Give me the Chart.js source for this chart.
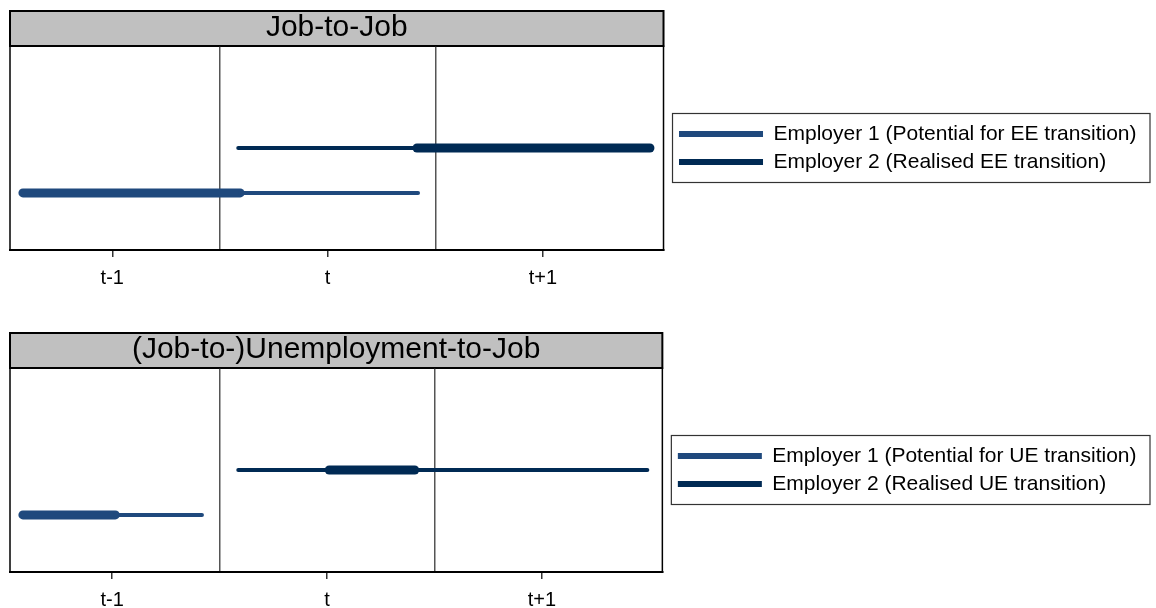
<!DOCTYPE html>
<html>
<head>
<meta charset="utf-8">
<script src="https://cdn.jsdelivr.net/npm/chart.js@4.4.0/dist/chart.umd.min.js"></script>
<style>
  body { margin: 0; background: #fff; overflow: hidden; width: 1156px; height: 608px; }
  .painel { position: absolute; left: 0; width: 1156px; height: 300px; }
</style>
</head>
<body>
<div class="painel" style="top:0px"><canvas id="graficoEE" width="1156" height="300"></canvas></div>
<div class="painel" style="top:322px"><canvas id="graficoUE" width="1156" height="300"></canvas></div>
<script>
// dados
const periodos = ['t-1', 't', 't+1'];
const posPeriodos = [1, 2, 3];
const divisoes = [1.5, 2.5];

const titulos = ['Job-to-Job', '(Job-to-)Unemployment-to-Job'];
const legendaEE = ['Employer 1 (Potential for EE transition)', 'Employer 2 (Realised EE transition)'];
const legendaUE = ['Employer 1 (Potential for UE transition)', 'Employer 2 (Realised UE transition)'];

// nivel (eixo y) de cada empregador
const nivelEmp = [0.28, 0.5];

// Job-to-Job: pontos no tempo e se o trecho e o vinculo principal (1) ou nao (0)
const eeEmp1X = [0.585, 1.594, 2.42];
const eeEmp1Principal = [1, 0];
const eeEmp2X = [1.585, 2.415, 3.497];
const eeEmp2Principal = [0, 1];

// (Job-to-)Unemployment-to-Job
const ueEmp1X = [0.585, 1.015, 1.418];
const ueEmp1Principal = [1, 0];
const ueEmp2X = [1.587, 2.01, 2.408, 3.49];
const ueEmp2Principal = [0, 1, 0];

const cores = ['#1f497d', '#002a54'];
const fonte = "'Liberation Sans', Arial, sans-serif";

function serie(label, xs, principal, nivel, cor) {
  return {
    label: label,
    data: xs.map(x => ({ x: x, y: nivel })),
    borderColor: cor,
    backgroundColor: cor,
    borderWidth: 4,
    borderCapStyle: 'round',
    pointRadius: 0,
    fill: false,
    segment: {
      borderWidth: ctx => principal[ctx.p0DataIndex] ? 9 : 4
    }
  };
}

// caixa cinza do titulo + moldura do grafico + moldura da legenda
const moldura = {
  id: 'moldura',
  afterLayout(chart) {
    // afasta a legenda um pouco do grafico
    chart.legend.left += 8.5;
    chart.legend.right += 8.5;
  },
  beforeDraw(chart) {
    const a = chart.chartArea;
    const c = chart.ctx;
    c.save();
    c.fillStyle = '#c0c0c0';
    c.fillRect(a.left, a.top - 35, a.right - a.left, 35);
    c.strokeStyle = '#000';
    c.lineWidth = 2;
    c.strokeRect(a.left, a.top - 35, a.right - a.left, 35);
    c.restore();
  },
  afterDraw(chart) {
    const a = chart.chartArea;
    const c = chart.ctx;
    c.save();
    c.strokeStyle = '#000';
    c.lineWidth = 1.5;
    c.strokeRect(a.left, a.top, a.right - a.left, a.bottom - a.top);
    // legenda
    const meio = (a.top + a.bottom) / 2;
    c.strokeStyle = '#333';
    c.lineWidth = 1.2;
    c.strokeRect(a.right + 9, meio - 34.5, chart.width - 6 - (a.right + 9), 69);
    c.restore();
  }
};

function montarConfig(titulo, nomes, e1x, e1p, e2x, e2p) {
  return {
    type: 'line',
    data: {
      datasets: [
        serie(nomes[0], e1x, e1p, nivelEmp[0], cores[0]),
        serie(nomes[1], e2x, e2p, nivelEmp[1], cores[1])
      ]
    },
    options: {
      responsive: false,
      animation: false,
      layout: { padding: { left: 10, right: 18, top: 0, bottom: 1 } },
      plugins: {
        tooltip: { enabled: false },
        title: {
          display: true,
          text: titulo,
          fullSize: false,
          color: '#000',
          font: { family: fonte, size: 30, weight: 'normal' },
          padding: { top: 10, bottom: 0 }
        },
        legend: {
          display: true,
          position: 'right',
          fullSize: false,
          labels: {
            color: '#000',
            font: { family: fonte, size: 21 },
            boxWidth: 84,
            boxHeight: 6,
            padding: 7,
            generateLabels: chart => chart.data.datasets.map((d, i) => ({
              text: d.label,
              fillStyle: d.borderColor,
              strokeStyle: d.borderColor,
              lineWidth: 0,
              datasetIndex: i
            }))
          }
        }
      },
      scales: {
        x: {
          type: 'linear',
          min: 0.525,
          max: 3.56,
          afterBuildTicks: scale => {
            scale.ticks = posPeriodos.concat(divisoes).sort().map(v => ({ value: v }));
          },
          border: { display: true, color: '#000', width: 2 },
          grid: {
            drawOnChartArea: true,
            tickLength: 7,
            lineWidth: 1.5,
            color: ctx => divisoes.includes(ctx.tick.value) ? '#555' : 'rgba(0,0,0,0)',
            tickColor: ctx => posPeriodos.includes(ctx.tick.value) ? '#333' : 'rgba(0,0,0,0)'
          },
          ticks: {
            autoSkip: false,
            maxRotation: 0,
            padding: 9,
            color: '#000',
            font: { family: fonte, size: 20 },
            callback: v => {
              const i = posPeriodos.indexOf(v);
              return i >= 0 ? periodos[i] : '';
            }
          }
        },
        y: { display: false, min: 0, max: 1 }
      }
    },
    plugins: [moldura]
  };
}

var graficoEE = new Chart(document.getElementById('graficoEE'),
  montarConfig(titulos[0], legendaEE, eeEmp1X, eeEmp1Principal, eeEmp2X, eeEmp2Principal));
var graficoUE = new Chart(document.getElementById('graficoUE'),
  montarConfig(titulos[1], legendaUE, ueEmp1X, ueEmp1Principal, ueEmp2X, ueEmp2Principal));
</script>
</body>
</html>
